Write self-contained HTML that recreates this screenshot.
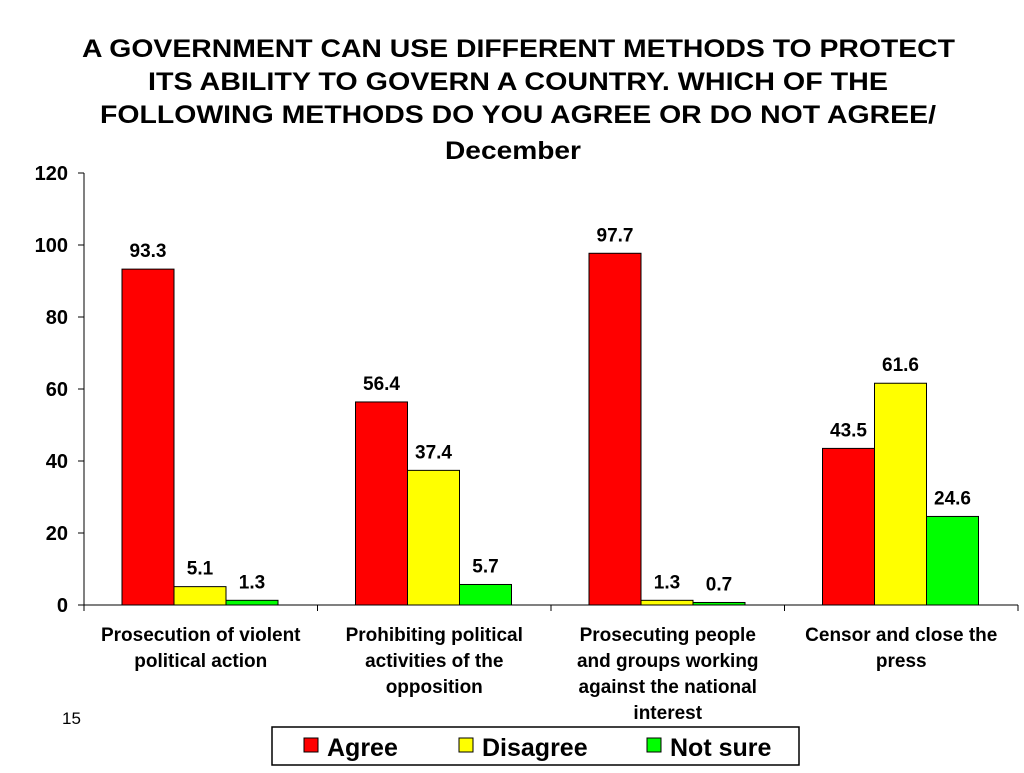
<!DOCTYPE html>
<html><head><meta charset="utf-8"><style>
body{margin:0;background:#fff;font-family:"Liberation Sans",Arial,sans-serif}
svg text{font-family:"Liberation Sans",Arial,sans-serif;font-weight:bold}
</style></head><body>
<svg width="1024" height="768" xmlns="http://www.w3.org/2000/svg" id="chart">
<g font-size="25" fill="#000">
<text x="82" y="57" textLength="873" lengthAdjust="spacingAndGlyphs">A GOVERNMENT CAN USE DIFFERENT METHODS TO PROTECT</text>
<text x="148" y="90" textLength="740" lengthAdjust="spacingAndGlyphs">ITS ABILITY TO GOVERN A COUNTRY. WHICH OF THE</text>
<text x="100" y="123" textLength="836" lengthAdjust="spacingAndGlyphs">FOLLOWING METHODS DO YOU AGREE OR DO NOT AGREE/</text>
<text x="445" y="159" textLength="136" lengthAdjust="spacingAndGlyphs">December</text>
</g>
<g id="axes"></g>
<g id="bars"></g>
<text x="62" y="724" font-size="17" style="font-weight:normal">15</text>
<g>
<rect x="272" y="727" width="527" height="38" fill="#fff" stroke="#000" stroke-width="1.5"/>
<g><rect x="304" y="738" width="14" height="14" fill="#ff0000" stroke="#000"/><text x="327" y="756" font-size="25">Agree</text></g>
<g><rect x="459" y="738" width="14" height="14" fill="#ffff00" stroke="#000"/><text x="482" y="756" font-size="25">Disagree</text></g>
<g><rect x="647" y="738" width="14" height="14" fill="#00ff00" stroke="#000"/><text x="670" y="756" font-size="25">Not sure</text></g>
</g>
</svg>
<script>
const categories=[["Prosecution of violent","political action"],["Prohibiting political","activities of the","opposition"],["Prosecuting people","and groups working","against the national","interest"],["Censor and close the","press"]];
const agree=[93.3,56.4,97.7,43.5];
const disagree=[5.1,37.4,1.3,61.6];
const notSure=[1.3,5.7,0.7,24.6];
const yTicks=[0,20,40,60,80,100,120];
const NS="http://www.w3.org/2000/svg";
const x0=84,x1=1018,yBase=605,yTop=173,yMax=120;
const y=v=>yBase-(yBase-yTop)*v/yMax;
const gw=(x1-x0)/categories.length;
const axes=document.getElementById('axes'),bars=document.getElementById('bars');
function mk(t,a,p){const e=document.createElementNS(NS,t);for(const k in a)e.setAttribute(k,a[k]);p.appendChild(e);return e;}
let yl=mk('line',{x1:x0,y1:yTop,x2:x0,y2:yBase,stroke:'#000'},axes);


let xl=mk('line',{x1:x0,y1:yBase,x2:x1,y2:yBase,stroke:'#000'},axes);


yTicks.forEach(v=>{
 mk('line',{x1:x0-6,y1:y(v),x2:x0,y2:y(v),stroke:'#000'},axes);
 const t=mk('text',{x:x0-16,y:y(v)+7,'text-anchor':'end','font-size':20},axes);
 
 
 t.textContent=v;
});
for(let i=0;i<=categories.length;i++)mk('line',{x1:x0+gw*i,y1:yBase,x2:x0+gw*i,y2:yBase+6,stroke:'#000'},axes);
const series=[[agree,'#ff0000','agree'],[disagree,'#ffff00','disagree'],[notSure,'#00ff00','not-sure']];
const bw=52,off=38;
categories.forEach((c,i)=>{
 const gx=x0+gw*i;
 series.forEach(([arr,col,nm],s)=>{
  const bx=gx+off+bw*s,v=arr[i];
  const r=mk('rect',{x:bx,y:y(v),width:bw,height:yBase-y(v),fill:col,stroke:'#000','stroke-width':1},bars);
  
  
  const t=mk('text',{x:bx+bw/2,y:y(v)-12,'text-anchor':'middle','font-size':19},bars);
  
  
  t.textContent=v;
 });
 const lab=mk('text',{'text-anchor':'middle','font-size':19},axes);
 
 
 c.forEach((ln,k)=>{const ts=mk('tspan',{x:gx+gw/2,y:641+k*26},lab);ts.textContent=ln;});
});
</script>
</body></html>
